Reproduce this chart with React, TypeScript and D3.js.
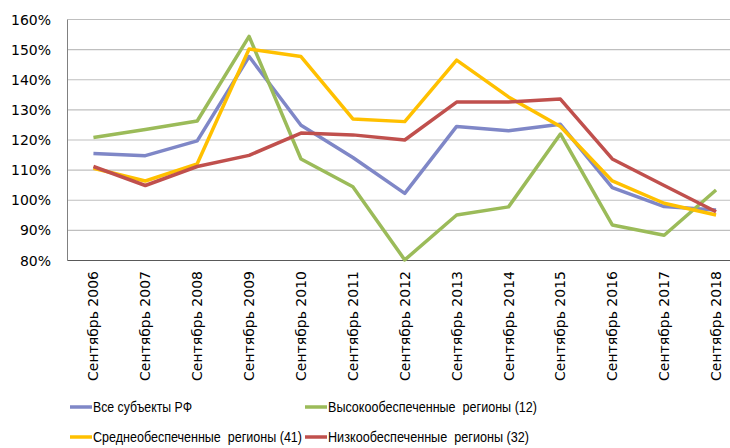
import { useEffect, useRef } from 'react';
import * as d3 from 'd3';

const years = ['2006', '2007', '2008', '2009', '2010', '2011', '2012', '2013', '2014', '2015', '2016', '2017', '2018'];
const categories = years.map(y => 'Сентябрь ' + y);

const allRegions = [115.5, 114.8, 119.7, 147.7, 124.9, 114.2, 102.3, 124.5, 123.1, 125.2, 104.2, 97.9, 96.8];
const highRegions = [120.8, 123.5, 126.3, 154.4, 113.7, 104.5, 80.2, 95.1, 97.8, 122.0, 91.8, 88.4, 103.4];
const midRegions = [110.6, 106.4, 112.1, 150.2, 147.7, 127.0, 126.1, 146.5, 134.3, 124.5, 106.4, 99.0, 95.1];
const lowRegions = [111.2, 104.9, 111.2, 114.9, 122.3, 121.7, 120.0, 132.6, 132.6, 133.6, 113.7, 104.9, 96.2];

const yTicks = [80, 90, 100, 110, 120, 130, 140, 150, 160];

const series = [
    { name: 'Все субъекты РФ', values: allRegions, color: '#7F87C7' },
    { name: 'Высокообеспеченные  регионы (12)', values: highRegions, color: '#9BBB59' },
    { name: 'Среднеобеспеченные  регионы (41)', values: midRegions, color: '#FFC000' },
    { name: 'Низкообеспеченные  регионы (32)', values: lowRegions, color: '#C0504D' },
];

export default function App() {
    const ref = useRef<SVGSVGElement | null>(null);

    useEffect(() => {
        const width = 730
        const height = 448
        const left = 67.5
        const right = 742
        const top = 19.5
        const bottom = 260.5

        const svg = d3.select(ref.current)
        svg.selectAll('*').remove()

        const x = d3.scalePoint<string>()
            .domain(categories)
            .range([left, right])
            .padding(0.5)

        const y = d3.scaleLinear()
            .domain([80, 160])
            .range([bottom, top])

        // gridlines
        svg.append('g')
            .selectAll('line')
            .data(yTicks.filter(t => t > 80))
            .join('line')
            .attr('x1', left)
            .attr('x2', width)
            .attr('y1', d => y(d))
            .attr('y2', d => y(d))
            .attr('stroke', '#BFBFBF')
            .attr('stroke-width', 1.2)

        // y labels
        svg.append('g')
            .selectAll('text')
            .data(yTicks)
            .join('text')
            .attr('x', 51)
            .attr('y', d => y(d))
            .attr('dy', '0.36em')
            .attr('text-anchor', 'end')
            .style('font-family', '"DejaVu Sans", sans-serif')
            .style('font-size', '14px')
            .attr('fill', '#000')
            .text(d => d + '%')

        // axes
        svg.append('line')
            .attr('x1', left).attr('x2', left)
            .attr('y1', top).attr('y2', bottom)
            .attr('stroke', '#808080')
            .attr('stroke-width', 1)
        svg.append('line')
            .attr('x1', left).attr('x2', width)
            .attr('y1', bottom).attr('y2', bottom)
            .attr('stroke', '#595959')
            .attr('stroke-width', 1.2)

        // x labels
        svg.append('g')
            .selectAll('text')
            .data(categories)
            .join('text')
            .attr('transform', d => `translate(${x(d)! + 5},271) rotate(-90)`)
            .attr('text-anchor', 'end')
            .style('font-family', '"DejaVu Sans", sans-serif')
            .style('font-size', '14px')
            .attr('fill', '#000')
            .text(d => d)

        const line = d3.line<number>()
            .x((d, i) => x(categories[i])!)
            .y(d => y(d))

        svg.append('g')
            .selectAll('path')
            .data(series)
            .join('path')
            .attr('d', d => line(d.values))
            .attr('fill', 'none')
            .attr('stroke', d => d.color)
            .attr('stroke-width', 3.5)
            .attr('stroke-linejoin', 'round')

        // legend (narrow font squeezed to the widths seen in the original)
        const legendPos = [[70, 407], [305, 407], [70, 437], [305, 437]]
        const legendWidth = [99, 209, 209, 201]
        const legend = svg.append('g')
            .selectAll('g')
            .data(series)
            .join('g')
            .attr('transform', (d, i) => `translate(${legendPos[i][0]},${legendPos[i][1]})`)
        legend.append('line')
            .attr('x1', 0).attr('x2', 22)
            .attr('stroke', d => d.color)
            .attr('stroke-width', 3.5)
        legend.append('text')
            .attr('x', 23)
            .attr('dy', '0.36em')
            .attr('textLength', (d, i) => legendWidth[i])
            .attr('lengthAdjust', 'spacingAndGlyphs')
            .style('font-family', '"Liberation Sans", sans-serif')
            .style('font-size', '14px')
            .style('white-space', 'pre')
            .attr('fill', '#000')
            .text(d => d.name)

        svg.attr('width', width).attr('height', height)
    }, [])

    return (
        <svg ref={ref} width={730} height={448}
            style={{ position: 'absolute', left: 0, top: 0, background: '#fff' }} />
    )
}
